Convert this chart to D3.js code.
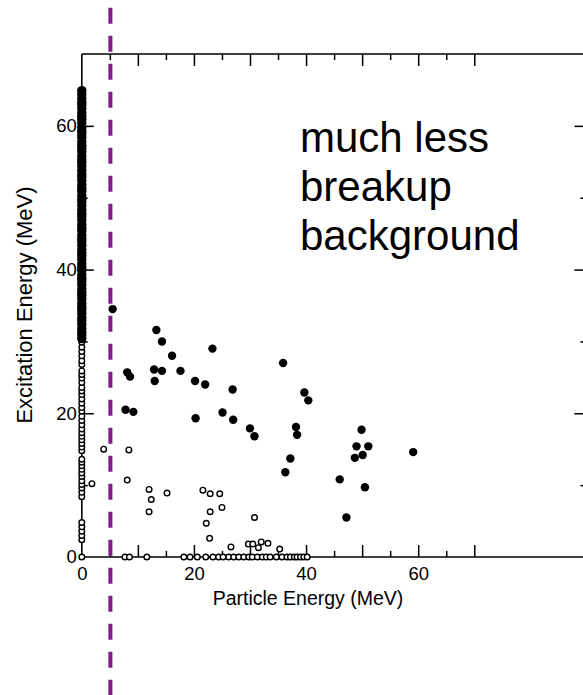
<!DOCTYPE html>
<html>
<head>
<meta charset="utf-8">
<script src="https://cdn.jsdelivr.net/npm/d3@7"></script>
<style>
  html, body { margin: 0; padding: 0; background: #fff; }
  svg { display: block; }
  text { font-family: "Liberation Sans", Arial, Helvetica, sans-serif; fill: #000; }
</style>
</head>
<body>
<script>
// ---- tick layout ----
const xLabelTicks = [0, 20, 40, 60];
const xMajorTicks = [10, 20, 30, 40, 50, 60, 70];
const xMinorTicks = [5, 15, 25, 35, 45, 55, 65];
const yLabelTicks = [0, 20, 40, 60];
const yMajorTicks = [20, 40, 60];
const yMinorTicks = [10, 30, 50];

// ---- events with a detected particle (filled) ----
const filledParticle = [5.5, 13.3, 14.3, 16.1, 23.3, 8.1, 8.6, 12.9, 14.3, 17.6, 13.0, 20.2, 22.0, 26.9,
  7.8, 9.2, 20.3, 25.1, 27.0, 30.0, 30.8, 35.9, 39.7, 40.4, 38.2, 38.4, 37.2, 36.3, 46.0, 47.2,
  49.9, 49.0, 51.1, 48.7, 50.1, 50.5, 59.1];
const filledExcitation = [34.5, 31.6, 30.0, 28.0, 29.0, 25.7, 25.1, 26.1, 25.9, 25.9, 24.5, 24.5, 24.0, 23.3,
  20.5, 20.2, 19.3, 20.1, 19.1, 17.9, 16.8, 27.0, 22.9, 21.8, 18.1, 17.0, 13.7, 11.8, 10.8, 5.5,
  17.7, 15.4, 15.4, 13.8, 14.2, 9.7, 14.6];

// ---- filled events piled up at zero particle energy ----
const filledZeroColumn = [30.4, 30.9, 31.3, 31.8, 32.4, 32.9, 33.3, 33.9, 34.4, 34.8, 35.3, 35.9, 36.4, 36.8,
  37.3, 37.9, 38.4, 38.8, 39.3, 39.9, 40.3, 40.8, 41.4, 41.9, 42.3, 42.8, 43.4, 43.9, 44.3, 44.8,
  45.4, 45.8, 46.3, 46.9, 47.4, 47.8, 48.3, 48.9, 49.4, 49.8, 50.3, 50.9, 51.3, 51.8, 52.4, 52.9,
  53.3, 53.8, 54.4, 54.9, 55.3, 55.8, 56.4, 56.9, 57.3, 57.8, 58.4, 58.9, 59.3, 59.8, 60.4, 60.9,
  61.3, 61.8, 62.4, 62.9, 63.3, 63.8, 64.4, 64.9];

// ---- open events ----
const openParticle = [1.8, 3.9, 8.4, 8.1, 12.0, 12.4, 12.0, 15.2, 21.6, 22.9, 24.6, 25.0, 22.9, 22.2,
  22.8, 26.6, 30.8, 29.7, 30.5, 31.5, 32.0, 33.2, 35.3];
const openExcitation = [10.2, 15.0, 14.9, 10.7, 9.4, 8.0, 6.3, 8.9, 9.3, 8.8, 8.8, 6.9, 6.3, 4.7,
  2.6, 1.4, 5.5, 1.8, 1.8, 1.3, 2.1, 1.9, 1.1];

// open events at zero excitation energy
const openZeroRow = [0, 7.7, 8.5, 11.6, 18.2, 19.3, 20.6, 22.1, 23.4, 24.4, 25.2, 26.2, 27.1, 28.0,
  28.9, 29.8, 30.4, 31.3, 32.2, 32.9, 33.6, 34.7, 35.7, 36.6, 37.2, 37.9, 38.4, 39.0, 39.6, 40.2];

// open events at zero particle energy
const openZeroColumn = [2.4, 3.0, 3.6, 4.2, 4.8, 8.4, 9.0, 9.6, 10.1, 10.6, 11.2, 11.7, 12.2, 12.7,
  13.2, 13.6, 14.8, 15.3, 15.8, 16.3, 16.8, 17.3, 17.8, 18.4, 19.0, 19.6, 20.3, 20.8, 21.4, 22.0,
  22.6, 23.1, 23.6, 24.3, 24.9, 25.4, 25.9, 26.8, 27.3, 28.0, 28.6, 29.2, 29.9];

// threshold marker (MeV of particle energy)
const thresholdEnergy = 5.1;

const annotationLines = ["much less", "breakup", "background"];

// ---- drawing ----
const W = 583, H = 695;
const svg = d3.select("body").append("svg").attr("width", W).attr("height", H);

const x = d3.scaleLinear().domain([0, 90]).range([81.8, 586.4]);
const y = d3.scaleLinear().domain([0, 70]).range([557, 54]);

const axisStroke = 1.5;
function styleAxis(g) {
  g.select(".domain").remove();
  g.selectAll(".tick line").attr("stroke", "#000").attr("stroke-width", axisStroke);
  g.selectAll(".tick text").attr("font-size", 18.5).attr("fill", "#000");
}

// frame lines
const frame = svg.append("g").attr("stroke", "#000").attr("stroke-width", 1.6).attr("fill", "none");
frame.append("line").attr("x1", x(0)).attr("x2", x(90)).attr("y1", y(0)).attr("y2", y(0));
frame.append("line").attr("x1", x(0)).attr("x2", x(90)).attr("y1", y(70)).attr("y2", y(70));
frame.append("line").attr("x1", x(0)).attr("x2", x(0)).attr("y1", y(0)).attr("y2", y(70));
frame.append("line").attr("x1", x(90)).attr("x2", x(90)).attr("y1", y(0)).attr("y2", y(70));

// bottom ticks (pointing inward)
svg.append("g").attr("transform", `translate(0,${y(0)})`)
  .call(d3.axisBottom(x).tickValues(xMajorTicks).tickSize(-12).tickFormat(""))
  .call(styleAxis);
svg.append("g").attr("transform", `translate(0,${y(0)})`)
  .call(d3.axisBottom(x).tickValues(xMinorTicks).tickSize(-6).tickFormat(""))
  .call(styleAxis);
svg.append("g").attr("transform", `translate(0,${y(0)})`)
  .call(d3.axisBottom(x).tickValues(xLabelTicks).tickSize(0).tickPadding(10).tickFormat(d3.format("d")))
  .call(styleAxis);

// top ticks
svg.append("g").attr("transform", `translate(0,${y(70)})`)
  .call(d3.axisTop(x).tickValues(xMajorTicks).tickSize(-12).tickFormat(""))
  .call(styleAxis);
svg.append("g").attr("transform", `translate(0,${y(70)})`)
  .call(d3.axisTop(x).tickValues(xMinorTicks).tickSize(-6).tickFormat(""))
  .call(styleAxis);

// left ticks
svg.append("g").attr("transform", `translate(${x(0)},0)`)
  .call(d3.axisLeft(y).tickValues(yMajorTicks).tickSize(-12).tickFormat(""))
  .call(styleAxis);
svg.append("g").attr("transform", `translate(${x(0)},0)`)
  .call(d3.axisLeft(y).tickValues(yMinorTicks).tickSize(-6).tickFormat(""))
  .call(styleAxis);
svg.append("g").attr("transform", `translate(${x(0)},0)`)
  .call(d3.axisLeft(y).tickValues(yLabelTicks).tickSize(0).tickPadding(5).tickFormat(d3.format("d")))
  .call(styleAxis);

// right ticks
svg.append("g").attr("transform", `translate(${x(90)},0)`)
  .call(d3.axisRight(y).tickValues(yMajorTicks).tickSize(-12).tickFormat(""))
  .call(styleAxis);
svg.append("g").attr("transform", `translate(${x(90)},0)`)
  .call(d3.axisRight(y).tickValues(yMinorTicks).tickSize(-6).tickFormat(""))
  .call(styleAxis);

// axis titles
svg.append("text")
  .attr("x", 308).attr("y", 605)
  .attr("text-anchor", "middle").attr("font-size", 19.5)
  .text("Particle Energy (MeV)");
svg.append("text")
  .attr("transform", `translate(32,305) rotate(-90)`)
  .attr("text-anchor", "middle").attr("font-size", 22)
  .text("Excitation Energy (MeV)");

// open markers
const openPts = [];
openParticle.forEach((p, i) => openPts.push([p, openExcitation[i]]));
openZeroRow.forEach(p => openPts.push([p, 0]));
openZeroColumn.forEach(e => openPts.push([0, e]));

svg.append("g").selectAll("circle").data(openPts).join("circle")
  .attr("cx", d => x(d[0])).attr("cy", d => y(d[1])).attr("r", 2.8)
  .attr("fill", "#fff").attr("stroke", "#000").attr("stroke-width", 1.4);

// filled markers
svg.append("g").selectAll("circle").data(filledZeroColumn).join("circle")
  .attr("cx", x(0)).attr("cy", d => y(d)).attr("r", 4.7).attr("fill", "#000");

svg.append("g").selectAll("circle").data(filledParticle).join("circle")
  .attr("cx", d => x(d)).attr("cy", (d, i) => y(filledExcitation[i])).attr("r", 4.2).attr("fill", "#000");

// annotation
const ann = svg.append("text").attr("font-size", 42);
annotationLines.forEach((t, i) => {
  ann.append("tspan").attr("x", 300).attr("y", 152 + i * 49).text(t);
});

// threshold line across the full height
svg.append("line")
  .attr("x1", x(thresholdEnergy)).attr("x2", x(thresholdEnergy))
  .attr("y1", 0).attr("y2", H)
  .attr("stroke", "#841a8c").attr("stroke-width", 4)
  .attr("stroke-dasharray", "16,12").attr("stroke-dashoffset", 20.3);
</script>
</body>
</html>
